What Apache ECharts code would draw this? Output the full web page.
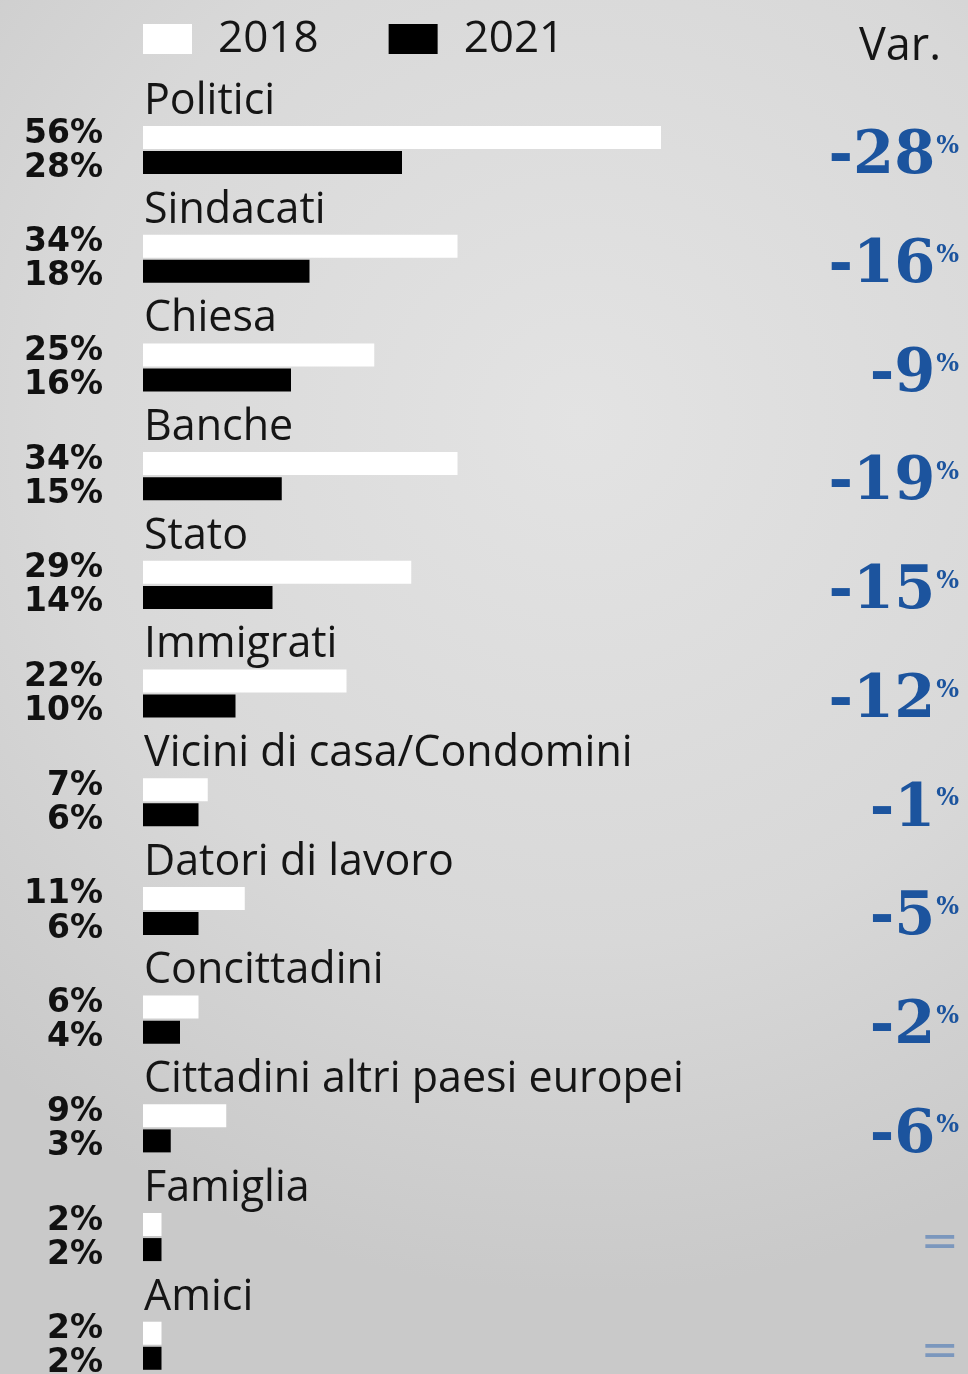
<!DOCTYPE html>
<html>
<head>
<meta charset="utf-8">
<script src="https://cdn.jsdelivr.net/npm/echarts@6/dist/echarts.min.js"></script>
<style>
html,body{margin:0;padding:0;overflow:hidden;background:#cbcbcb;}
#chart{width:968px;height:1404px;}
</style>
</head>
<body>
<div id="chart"></div>
<script>
const categories = ['Politici','Sindacati','Chiesa','Banche','Stato','Immigrati','Vicini di casa/Condomini','Datori di lavoro','Concittadini','Cittadini altri paesi europei','Famiglia','Amici'];
const values2018 = [56, 34, 25, 34, 29, 22, 7, 11, 6, 9, 2, 2];
const values2021 = [28, 18, 16, 15, 14, 10, 6, 6, 4, 3, 2, 2];
const varLabels = ['-28','-16','-9','-19','-15','-12','-1','-5','-2','-6','=','='];
const seriesNames = ['2018', '2021'];

const chart = echarts.init(document.getElementById('chart'), null, {renderer: 'canvas'});
const blue = '#1c549e';
const option = {
  animation: false,
  backgroundColor: {
    type: 'radial', x: 0.6, y: 0.3, r: 0.9,
    colorStops: [
      {offset: 0, color: '#e3e3e3'},
      {offset: 0.6, color: '#d8d8d8'},
      {offset: 1, color: '#c9c9c9'}
    ]
  },
  title: {
    text: 'Var.', right: 22, top: 20,
    textStyle: {fontFamily: 'Open Sans', fontWeight: 'normal', fontSize: 45, color: '#151515'}
  },
  legend: {
    left: 138, top: 12, icon: 'rect', itemWidth: 49, itemHeight: 30, itemGap: 70,
    textStyle: {fontFamily: 'Open Sans', fontSize: 44, color: '#151515', padding: [6, 0, 0, 21]},
    data: [{name: seriesNames[0], itemStyle: {color: '#ffffff'}}, {name: seriesNames[1], itemStyle: {color: '#000000'}}]
  },
  grid: {left: 143, width: 740, top: 95.7, height: 1304.4},
  xAxis: {type: 'value', min: 0, max: 80, show: false},
  yAxis: [
    {
      type: 'category', data: categories, inverse: true,
      axisLine: {show: false}, axisTick: {show: false}, splitLine: {show: false},
      axisLabel: {
        interval: 0, inside: true, margin: 1, verticalAlign: 'bottom', lineHeight: 97,
        fontFamily: 'Open Sans', fontSize: 43, color: '#151515'
      }
    },
    {
      type: 'category', data: categories, inverse: true, position: 'right',
      axisLine: {show: false}, axisTick: {show: false}, splitLine: {show: false},
      axisLabel: {
        interval: 0, margin: 76, align: 'right',
        formatter: function (v, i) {
          const t = varLabels[i];
          return t === '=' ? '{eq|=}' : '{n|' + t + '}{p|%}';
        },
        rich: {
          n: {fontFamily: 'DejaVu Serif', fontWeight: 'bold', fontSize: 59, lineHeight: 58, color: blue, padding: [16, 0, 0, 0]},
          p: {fontFamily: 'DejaVu Serif', fontWeight: 'bold', fontSize: 24, color: blue, verticalAlign: 'top', padding: [14, 0, 0, 1]},
          eq: {fontFamily: 'DejaVu Sans', fontSize: 46, color: '#7b97bd', padding: [14, 0, 0, 0]}
        }
      }
    }
  ],
  series: [
    {
      name: seriesNames[0], type: 'bar', data: values2018, barWidth: 23, barGap: '9%',
      itemStyle: {color: '#ffffff'},
      label: {
        show: true, position: [-40, 8], align: 'right', verticalAlign: 'middle',
        formatter: '{c}%', fontFamily: 'DejaVu Sans', fontWeight: 'bold', fontSize: 33, color: '#111'
      }
    },
    {
      name: seriesNames[1], type: 'bar', data: values2021, barWidth: 23,
      itemStyle: {color: '#000000'},
      label: {
        show: true, position: [-40, 17], align: 'right', verticalAlign: 'middle',
        formatter: '{c}%', fontFamily: 'DejaVu Sans', fontWeight: 'bold', fontSize: 33, color: '#111'
      }
    }
  ]
};
chart.setOption(option);
</script>
</body>
</html>
